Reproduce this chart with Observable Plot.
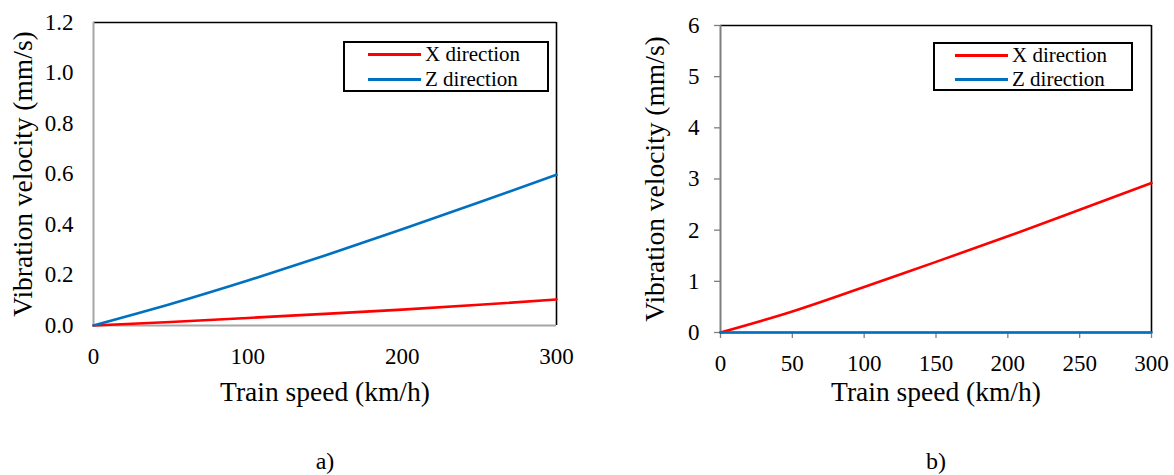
<!DOCTYPE html>
<html>
<head>
<meta charset="utf-8">
<script src="https://cdn.jsdelivr.net/npm/d3@7"></script>
<script src="https://cdn.jsdelivr.net/npm/@observablehq/plot@0.6"></script>
<style>
  body { margin: 0; background: #fff; font-family: "Liberation Serif", "Times New Roman", serif; }
  #wrap { position: relative; width: 1174px; height: 475px; overflow: hidden; background: #fff; }
  .panel { position: absolute; top: 0; }
  .panel text { font-family: "Liberation Serif", "Times New Roman", serif; fill: #000; }
  .panel g[aria-label="y-axis tick label"], .panel g[aria-label="x-axis tick label"] { font-size: 23px; }
  .legend { position: absolute; border: 2px solid #000; box-sizing: border-box; background: #fff; }
  .row { position: absolute; height: 24px; display: flex; align-items: center; font-size: 21px; color: #000; white-space: nowrap; font-family: "Liberation Serif", "Times New Roman", serif; }
  .sw { position: absolute; height: 3px; }
</style>
</head>
<body>
<div id="wrap"></div>
<script>
// Train speed samples (km/h)
const speed = [0, 50, 100, 150, 200, 250, 300];

// Panel a) vibration velocity (mm/s)
const aX = [0, 0.014, 0.030, 0.046, 0.063, 0.082, 0.103];
const aZ = [0, 0.085, 0.178, 0.277, 0.381, 0.488, 0.597];

// Panel b) vibration velocity (mm/s)
const bX = [0, 0.41, 0.89, 1.38, 1.88, 2.40, 2.92];
const bZ = [0, 0, 0, 0, 0, 0, 0];

const seriesNames = ["X direction", "Z direction"];
const seriesColors = ["#ff0000", "#0070c0"];

const xTicksA = [0, 100, 200, 300];
const yTicksA = [0, 0.2, 0.4, 0.6, 0.8, 1.0, 1.2];
const xTicksB = [0, 50, 100, 150, 200, 250, 300];
const yTicksB = [0, 1, 2, 3, 4, 5, 6];

const xTitle = "Train speed (km/h)";
const yTitle = "Vibration velocity (mm/s)";
const captions = ["a)", "b)"];

const serif = "'Liberation Serif', 'Times New Roman', serif";

function panel(o) {
  const rows = speed.flatMap((s, i) => [
    {s, v: o.seriesX[i], k: seriesNames[0]},
    {s, v: o.seriesZ[i], k: seriesNames[1]}
  ]);
  return Plot.plot({
    width: o.width,
    height: 475,
    marginLeft: o.marginLeft,
    marginRight: o.marginRight,
    marginTop: o.marginTop,
    marginBottom: o.marginBottom,
    style: {fontFamily: serif, background: "#fff", color: "#000", overflow: "visible"},
    x: {domain: [0, 300]},
    y: {domain: o.yDomain},
    color: {domain: seriesNames, range: seriesColors},
    marks: [
      // chart-area border on top and right
      Plot.ruleY([o.yDomain[1]], {stroke: "#000", strokeWidth: 1.6}),
      Plot.ruleX([300], {stroke: "#000", strokeWidth: 1.6}),
      Plot.axisY(o.yTicks, {
        tickSize: o.tickSize, tickPadding: o.padY, tickFormat: o.yFormat,
        fontSize: 23, fontFamily: serif, stroke: o.axisColor, strokeWidth: 1.3, label: null
      }),
      Plot.axisX(o.xTicks, {
        tickSize: o.tickSize, tickPadding: o.padX, tickFormat: d => String(d),
        fontSize: 23, fontFamily: serif, stroke: o.axisColor, strokeWidth: 1.3, label: null
      }),
      // axis lines
      Plot.ruleX([0], {stroke: o.axisColor, strokeWidth: 2}),
      Plot.ruleY([0], {stroke: o.axisColor, strokeWidth: 2}),
      Plot.line(rows, {x: "s", y: "v", z: "k", stroke: "k", strokeWidth: 2.6, curve: "natural"}),
      Plot.text([yTitle], {text: d => d, frameAnchor: "left", textAnchor: "middle", rotate: -90, dx: o.yTitleDx, fontSize: 27.5, lineAnchor: "middle"}),
      Plot.text([xTitle], {text: d => d, frameAnchor: "bottom", textAnchor: "middle", dy: o.xTitleDy, fontSize: 27.5, lineAnchor: "middle"}),
      Plot.text([o.caption], {text: d => d, frameAnchor: "bottom", textAnchor: "middle", dy: o.capDy, fontSize: 24, lineAnchor: "middle"})
    ]
  });
}

function legend(wrap, box, swX, swW, textX, rowYs) {
  const lg = document.createElement("div");
  lg.className = "legend";
  Object.assign(lg.style, {left: box[0] + "px", top: box[1] + "px", width: box[2] + "px", height: box[3] + "px"});
  wrap.appendChild(lg);
  seriesNames.forEach((name, i) => {
    const sw = document.createElement("div");
    sw.className = "sw";
    Object.assign(sw.style, {left: swX + "px", top: (rowYs[i] - 1.5) + "px", width: swW + "px", background: seriesColors[i]});
    const t = document.createElement("div");
    t.className = "row";
    t.textContent = name;
    Object.assign(t.style, {left: textX + "px", top: (rowYs[i] - 12) + "px"});
    wrap.appendChild(sw);
    wrap.appendChild(t);
  });
}

const wrap = document.getElementById("wrap");

const pa = panel({
  width: 600, marginLeft: 93, marginRight: 44, marginTop: 22, marginBottom: 150,
  yDomain: [0, 1.2], xTicks: xTicksA, yTicks: yTicksA, yFormat: d3.format(".1f"),
  seriesX: aX, seriesZ: aZ, tickSize: 0, padX: 22, padY: 20, axisColor: "#a6a6a6",
  yTitleDx: -70, xTitleDy: 67, capDy: 136, caption: captions[0]
});
pa.classList.add("panel");
pa.style.left = "0px";
wrap.appendChild(pa);

const pb = panel({
  width: 574, marginLeft: 120, marginRight: 23, marginTop: 25, marginBottom: 143,
  yDomain: [0, 6], xTicks: xTicksB, yTicks: yTicksB, yFormat: d => String(d),
  seriesX: bX, seriesZ: bZ, tickSize: 6, padX: 16, padY: 15, axisColor: "#7f7f7f",
  yTitleDx: -65, xTitleDy: 60, capDy: 129, caption: captions[1]
});
pb.classList.add("panel");
pb.style.left = "600px";
wrap.appendChild(pb);

legend(wrap, [343, 41, 206, 51], 368, 53, 425, [54, 79]);
legend(wrap, [933, 42, 200, 49], 955, 53, 1012, [55, 79]);
</script>
</body>
</html>
